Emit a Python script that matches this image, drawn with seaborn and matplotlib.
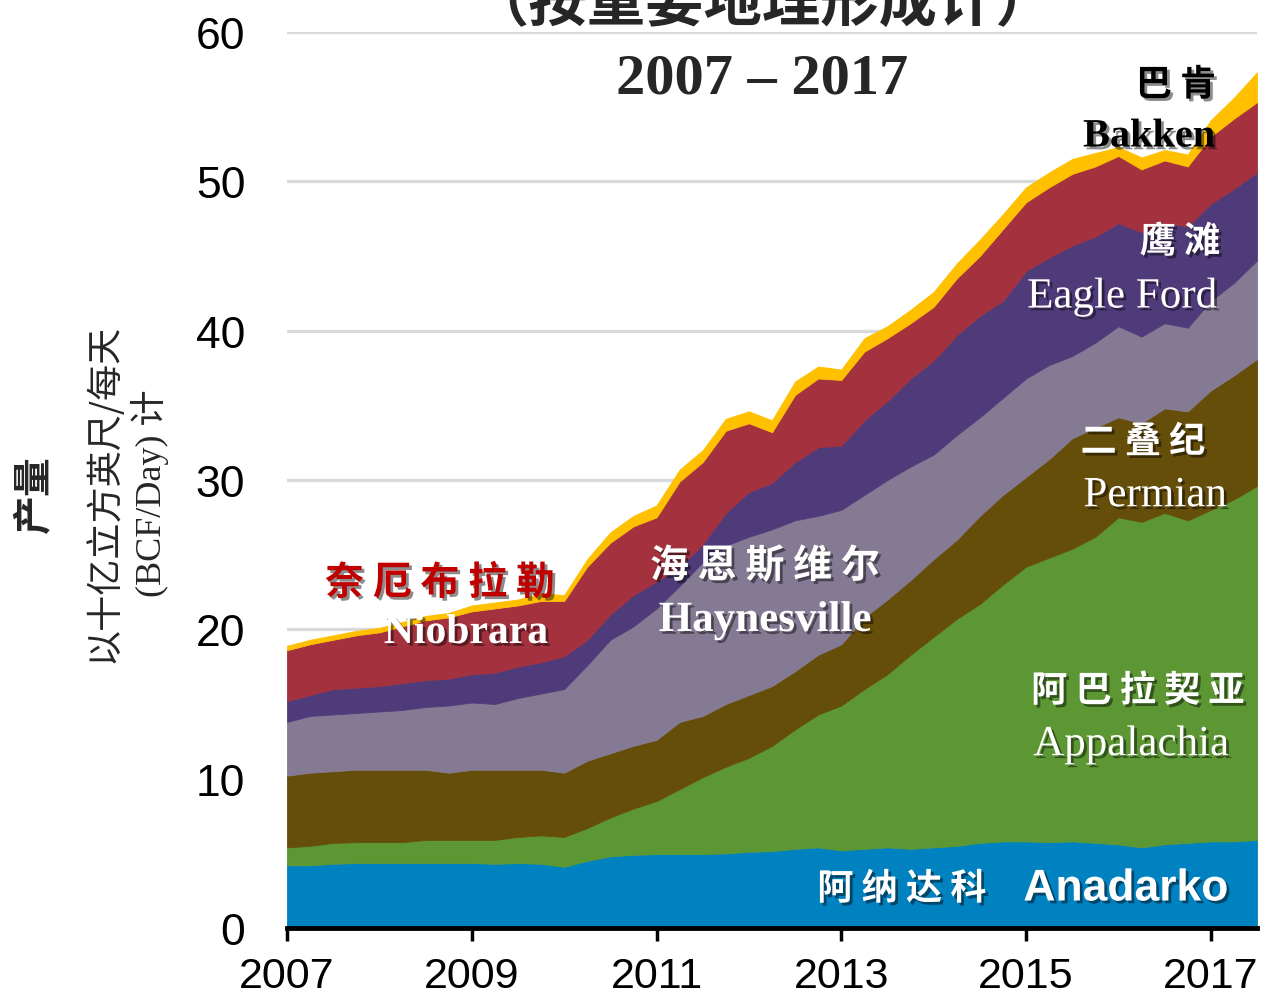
import numpy as np
import matplotlib
matplotlib.use("Agg")
import matplotlib.pyplot as plt
import matplotlib.patheffects as pe
import seaborn as sns

# quarterly points, 2007.0 .. 2017.5
years = np.arange(2007, 2017.51, 0.25)

# production by region, BCF/day
anadarko = [4.2, 4.2, 4.3, 4.35, 4.35, 4.35, 4.35, 4.35, 4.35, 4.3, 4.35, 4.3, 4.1, 4.5, 4.8, 4.9,
            4.95, 4.95, 4.95, 5.0, 5.1, 5.15, 5.3, 5.4, 5.2, 5.3, 5.4, 5.3, 5.4, 5.5, 5.7, 5.8,
            5.8, 5.75, 5.8, 5.7, 5.6, 5.4, 5.6, 5.7, 5.8, 5.8, 5.9]
appalachia = [1.2, 1.3, 1.4, 1.4, 1.4, 1.4, 1.55, 1.55, 1.55, 1.6, 1.75, 1.9, 2.0, 2.2, 2.6, 3.1,
              3.55, 4.35, 5.15, 5.8, 6.3, 7.05, 8.0, 8.9, 9.7, 10.7, 11.6, 13.0, 14.1, 15.2, 16.0, 17.2,
              18.4, 19.05, 19.6, 20.5, 21.9, 21.8, 22.2, 21.6, 22.2, 22.9, 23.7]
permian = [4.8, 4.9, 4.8, 4.85, 4.85, 4.85, 4.7, 4.5, 4.7, 4.7, 4.5, 4.4, 4.3, 4.5, 4.3, 4.2,
           4.1, 4.5, 4.1, 4.2, 4.2, 4.0, 3.9, 4.0, 4.1, 4.8, 5.0, 5.0, 5.2, 5.3, 5.9, 6.0,
           6.0, 6.6, 7.4, 7.3, 6.7, 6.6, 7.0, 7.3, 8.0, 8.3, 8.5]
haynesville = [3.6, 3.8, 3.8, 3.8, 3.9, 4.0, 4.2, 4.5, 4.5, 4.4, 4.8, 5.1, 5.6, 6.4, 7.6, 8.0,
               8.8, 9.1, 10.3, 10.6, 10.6, 10.5, 10.1, 9.3, 9.0, 8.2, 8.0, 7.6, 7.0, 7.0, 6.6, 6.5,
               6.6, 6.3, 5.5, 5.7, 6.1, 5.8, 5.7, 5.6, 6.0, 6.2, 6.6]
eagle_ford = [1.4, 1.4, 1.7, 1.7, 1.7, 1.8, 1.8, 1.8, 1.9, 2.1, 2.1, 2.1, 2.2, 1.7, 1.7, 2.1,
              1.8, 1.3, 1.2, 2.2, 3.0, 3.1, 3.9, 4.6, 4.3, 5.0, 5.3, 5.9, 6.3, 6.7, 6.8, 6.5,
              7.2, 7.2, 7.4, 7.1, 6.9, 7.0, 6.7, 6.8, 6.5, 6.3, 5.9]
niobrara = [3.4, 3.4, 3.3, 3.5, 3.6, 3.8, 4.0, 4.1, 4.2, 4.3, 4.1, 4.1, 3.7, 4.9, 4.8, 4.6,
            4.3, 5.7, 5.5, 5.5, 4.6, 3.4, 4.5, 4.6, 4.4, 4.6, 4.2, 3.7, 3.6, 3.8, 4.0, 4.8,
            4.6, 4.7, 4.8, 4.7, 4.5, 4.2, 4.2, 4.0, 4.5, 4.7, 4.7]
bakken = [0.3, 0.3, 0.3, 0.3, 0.3, 0.3, 0.3, 0.3, 0.4, 0.4, 0.4, 0.5, 0.4, 0.5, 0.7, 0.7,
          0.8, 0.8, 0.8, 0.8, 0.8, 0.8, 0.9, 0.8, 0.7, 0.9, 0.8, 0.9, 1.0, 1.0, 1.1, 1.0,
          1.0, 1.0, 1.0, 0.9, 0.6, 0.8, 0.7, 0.8, 1.1, 1.4, 2.0]

colors = ["#0081C0", "#5C9733", "#654D0A", "#857A94", "#503B7A", "#A3313E", "#FFC000"]
tick_years = [2007, 2009, 2011, 2013, 2015, 2017]
y_ticks = [0, 10, 20, 30, 40, 50, 60]

sns.set_theme(style="white")
plt.rcParams["font.family"] = ["Liberation Sans", "Noto Sans CJK SC", "DejaVu Sans"]

W, H = 1268, 1004
fig = plt.figure(figsize=(W / 100, H / 100), dpi=100)
ax = fig.add_axes([287 / W, 1 - 929 / H, (1257 - 287) / W, (929 - 33) / H])

ax.stackplot(years, anadarko, appalachia, permian, haynesville, eagle_ford, niobrara, bakken,
             colors=colors, edgecolor="face", linewidth=0.6, zorder=2)

ax.set_xlim(2007, 2017.5)
ax.set_ylim(0, 60)
ax.set_yticks(y_ticks)
ax.set_xticks(tick_years)
ax.yaxis.grid(True, color="#D9D9D9", linewidth=2.4, zorder=0)
ax.set_axisbelow(True)
sns.despine(ax=ax, left=True)
ax.spines["bottom"].set_color("black")
ax.spines["bottom"].set_linewidth(3.5)
ax.spines["bottom"].set_zorder(5)
ax.tick_params(axis="y", length=0, pad=30, labelsize=32, labelcolor="black")
ax.tick_params(axis="x", direction="out", length=9, width=2.5, color="black", pad=11,
               labelsize=31, labelcolor="black", bottom=True)

# axis title (rotated, left side)
fig.text(35 / W, 1 - 495 / H, "产量", rotation=90, ha="center", va="center",
         fontsize=28, fontweight="bold", family=["Noto Sans CJK SC"])
fig.text(103 / W, 1 - 493 / H, "以十亿立方英尺/每天", rotation=90, ha="center", va="center",
         fontsize=26, family=["Noto Sans CJK SC"])
fig.text(150 / W, 1 - 493 / H, "(BCF/Day) 计", rotation=90, ha="center", va="center",
         fontsize=26, family=["Liberation Serif", "Noto Sans CJK SC"])

# title (top line is cut by the image border, as in the source)
fig.text(762 / W, 1 - 4 / H, "（按重要地理形成计）", ha="center", va="center",
         fontsize=42, fontweight="bold", family=["Noto Sans CJK SC"])
fig.text(762 / W, 1 - 80 / H, "2007 – 2017", ha="center", va="center",
         fontsize=42, fontweight="bold", family=["Liberation Serif"])

shadow = [pe.SimplePatchShadow(offset=(2, -2), shadow_rgbFace="black", alpha=0.45), pe.Normal()]
serif = ["Liberation Serif", "Noto Sans CJK SC"]
cjk = ["Noto Sans CJK SC"]

labels = [
    # (x px, y px, text, color, size, weight, family)
    (1176, 86, "巴 肯", "black", 26, "bold", cjk),
    (1149, 138, "Bakken", "black", 29, "bold", serif),
    (1180, 243, "鹰 滩", "white", 26, "bold", cjk),
    (1122, 298, "Eagle Ford", "white", 31, "normal", serif),
    (1143, 443, "二 叠 纪", "white", 26, "bold", cjk),
    (1155, 497, "Permian", "white", 31, "normal", serif),
    (1138, 692, "阿 巴 拉 契 亚", "white", 26, "bold", cjk),
    (1131, 746, "Appalachia", "white", 31, "normal", serif),
    (765, 567, "海 恩 斯 维 尔", "white", 28, "bold", cjk),
    (765, 622, "Haynesville", "white", 31, "bold", serif),
    (440, 584, "奈 厄 布 拉 勒", "#C00000", 28, "bold", cjk),
    (466, 634, "Niobrara", "white", 30, "bold", serif),
    (902, 890, "阿 纳 达 科", "white", 26, "bold", cjk),
    (1126, 890, "Anadarko", "white", 32, "bold", ["Liberation Sans"]),
]
for x, y, s, c, fs, fw, fam in labels:
    fig.text(x / W, 1 - y / H, s, ha="center", va="center", color=c, fontsize=fs,
             fontweight=fw, family=fam, path_effects=shadow, zorder=10)

fig.savefig("out.png", dpi=100)
